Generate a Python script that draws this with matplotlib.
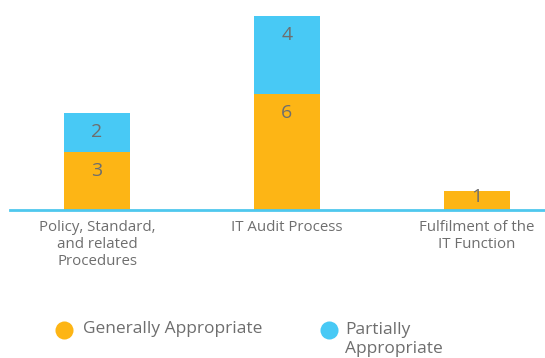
import matplotlib
matplotlib.use("Agg")
import matplotlib.pyplot as plt
from matplotlib.lines import Line2D

plt.rcParams['font.family'] = ['Open Sans', 'DejaVu Sans']

categories = ["Policy, Standard,\nand related\nProcedures", "IT Audit Process", "Fulfilment of the\nIT Function"]
generally = [3, 6, 1]
partially = [2, 4, 0]
series_names = ["Generally Appropriate", "Partially\nAppropriate"]
colors = ["#FDB515", "#48C9F5"]
text_gray = "#6E6E6E"

W, H = 545, 358
fig = plt.figure(figsize=(W / 100, H / 100), dpi=100)
ax = fig.add_axes([10 / W, (H - 210) / H, 535 / W, 210 / H])

x = list(range(len(categories)))
width = 0.347
ax.bar(x, generally, width, color=colors[0], zorder=2)
ax.bar(x, partially, width, bottom=generally, color=colors[1], zorder=2)

def label_y(bottom, h):
    top = bottom + h
    return top - (1.0 if h >= 2 else 0.33 * h)

for i in x:
    for bottom, h in [(0, generally[i]), (generally[i], partially[i])]:
        if h > 0:
            ax.text(i, label_y(bottom, h), str(h), ha='center', va='center',
                    fontsize=14, color=text_gray, zorder=3)

ax.set_xlim(-0.458, 2.358)
ax.set_ylim(0, 10.82)
for s in ['top', 'right', 'left']:
    ax.spines[s].set_visible(False)
ax.spines['bottom'].set_color("#4FC8EE")
ax.spines['bottom'].set_linewidth(2)
ax.set_yticks([])
ax.set_xticks(x)
ax.set_xticklabels(categories, fontsize=10.8, color=text_gray, linespacing=1.2)
ax.tick_params(axis='x', length=0, pad=7)

# legend
def fx(px):
    return px / W

def fy(py):
    return (H - py) / H

for cx, col in [(64, colors[0]), (329, colors[1])]:
    fig.add_artist(Line2D([fx(cx)], [fy(330)], marker='o', markersize=13,
                          color=col, markeredgewidth=0, transform=fig.transFigure))
fig.text(fx(83), fy(329), series_names[0], ha='left', va='center', fontsize=12.5, color=text_gray)
fig.text(fx(345), fy(322), series_names[1], ha='left', va='top', fontsize=12.5, color=text_gray,
         linespacing=1.25)

fig.savefig("out.png", dpi=100)
